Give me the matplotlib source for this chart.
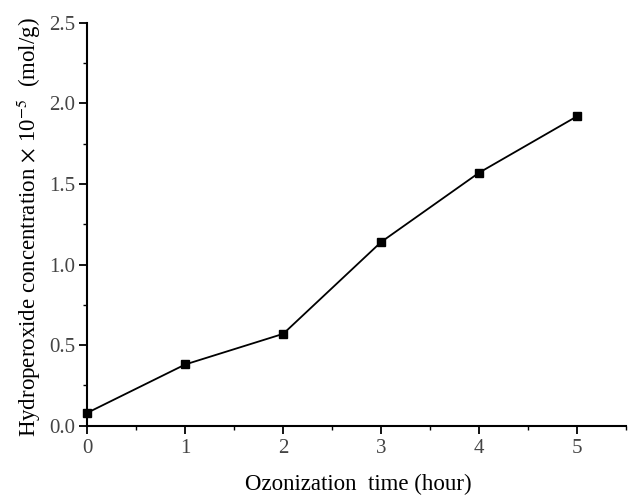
import matplotlib
matplotlib.use("Agg")
import matplotlib.pyplot as plt
from matplotlib.ticker import MultipleLocator

# ozonization time (h) and hydroperoxide content (x1e-5 mol/g)
hours = [0, 1, 2, 3, 4, 5]
hydroperoxide = [0.08, 0.38, 0.57, 1.14, 1.57, 1.92]

plt.rcParams['font.family'] = ['Liberation Serif', 'DejaVu Serif']
plt.rcParams['mathtext.fontset'] = 'stix'

fig = plt.figure(figsize=(6.28, 4.95), dpi=100)
ax = fig.add_axes([0.139, 0.14, 0.858, 0.814])

ax.plot(hours, hydroperoxide, color='black', lw=1.3, marker='s',
        markersize=6, markerfacecolor='black', markeredgecolor='black',
        clip_on=False, zorder=3)

ax.set_xlim(0, 5.5)
ax.set_ylim(0, 2.5)
ax.xaxis.set_major_locator(MultipleLocator(1))
ax.xaxis.set_minor_locator(MultipleLocator(0.5))
ax.yaxis.set_major_locator(MultipleLocator(0.5))
ax.yaxis.set_minor_locator(MultipleLocator(0.25))
ax.yaxis.set_major_formatter(plt.FormatStrFormatter('%.1f'))

for side in ['top', 'right']:
    ax.spines[side].set_visible(False)
for side in ['left', 'bottom']:
    ax.spines[side].set_linewidth(1.5)

ax.tick_params(which='major', direction='out', length=5.5, width=1.3,
               labelsize=15, colors='black', labelcolor='#444444', pad=3)
ax.tick_params(which='minor', direction='out', length=3, width=1.0)
ax.tick_params(axis='x', which='major', pad=4)

ax.set_xlabel('Ozonization  time (hour)', fontsize=16.5)
ax.set_ylabel(r'Hydroperoxide concentration$\,\times\,$10$^{-5}$  (mol/g)',
              fontsize=16.5)
ax.xaxis.set_label_coords(0.503, -0.12)
ax.yaxis.set_label_coords(-0.082, 0.492)

fig.savefig('out.png', dpi=100)
